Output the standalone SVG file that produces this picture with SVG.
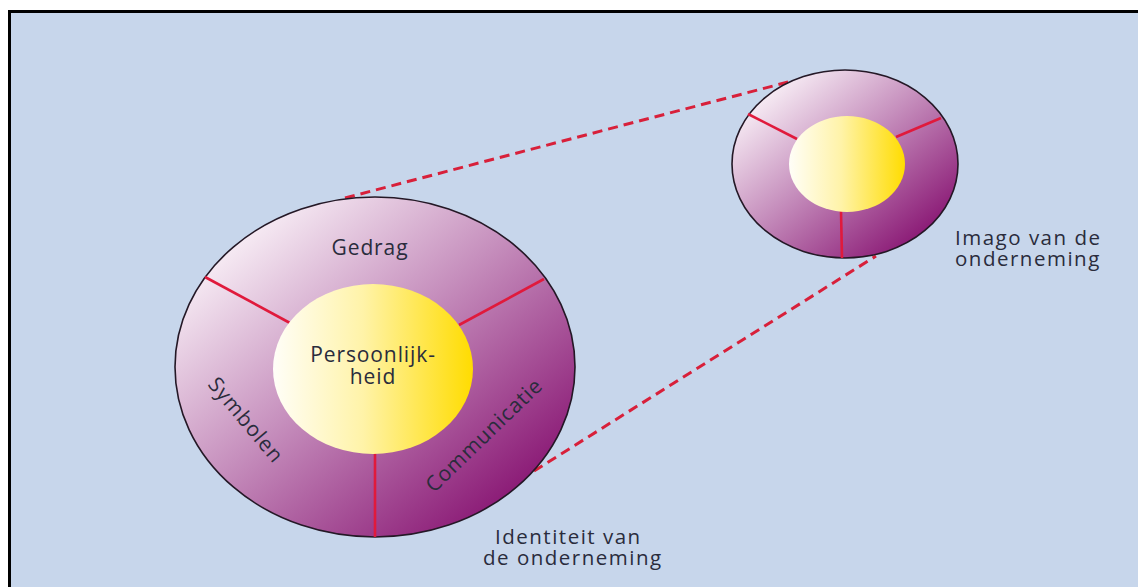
<svg xmlns="http://www.w3.org/2000/svg" width="1138" height="587" viewBox="0 0 1138 587">
  <defs>
    <linearGradient id="ring" x1="0.12" y1="0.1" x2="0.9" y2="0.9">
      <stop offset="0" stop-color="#FBF4F9"/>
      <stop offset="0.45" stop-color="#C68FBD"/>
      <stop offset="1" stop-color="#850F6F"/>
    </linearGradient>
    <linearGradient id="core" x1="0" y1="0" x2="1" y2="0">
      <stop offset="0" stop-color="#FFFEF8"/>
      <stop offset="0.45" stop-color="#FFF3A8"/>
      <stop offset="1" stop-color="#FFDC00"/>
    </linearGradient>
    <style>
      .ring { fill: url(#ring); stroke: #241826; stroke-width: 1.6; }
      .core { fill: url(#core); stroke: none; }
      .div { stroke: #E01A3C; stroke-width: 2.6; fill: none; }
      .dash { stroke: #D8203A; stroke-width: 3; stroke-dasharray: 10 6; fill: none; }
      .lbl { font-family: "Open Sans", "Noto Sans", sans-serif; font-size: 21px; fill: #2A2C3C; letter-spacing: 0.9px; }
      .cap { font-family: "Open Sans", "Noto Sans", sans-serif; font-size: 20.5px; fill: #2A2C3C; letter-spacing: 1.5px; }
    </style>
  </defs>

  <rect x="0" y="0" width="1138" height="587" fill="#FFFFFF"/>
  <rect x="10" y="12" width="1130" height="580" fill="#C7D6EB"/>
  <line x1="9.5" y1="10" x2="9.5" y2="587" stroke="#000" stroke-width="3"/>
  <line x1="8" y1="11.5" x2="1138" y2="11.5" stroke="#000" stroke-width="3"/>

  <g id="connectors">
    <line class="dash" x1="345" y1="198" x2="792" y2="81"/>
    <line class="dash" x1="534" y1="471" x2="876" y2="256"/>
  </g>

  <g id="identiteit">
    <ellipse class="ring" cx="375" cy="367" rx="200" ry="170"/>
    <line class="div" x1="205" y1="277" x2="290" y2="323"/>
    <line class="div" x1="544" y1="279" x2="459" y2="325"/>
    <line class="div" x1="375" y1="452" x2="375" y2="537"/>
    <ellipse class="core" cx="373" cy="369" rx="100" ry="85"/>
    <text class="lbl" x="370" y="255" text-anchor="middle">Gedrag</text>
    <text class="lbl" text-anchor="middle"><tspan x="373" y="362">Persoonlijk-</tspan><tspan x="373" y="384">heid</tspan></text>
    <text class="lbl" text-anchor="middle" transform="translate(246,420) rotate(50)" dy="0.35em">Symbolen</text>
    <text class="lbl" text-anchor="middle" transform="translate(484,435) rotate(-44)" dy="0.35em">Communicatie</text>
    <text class="cap"><tspan x="495" y="544">Identiteit van</tspan><tspan x="483" y="565">de onderneming</tspan></text>
  </g>

  <g id="imago">
    <ellipse class="ring" cx="845" cy="164" rx="113" ry="94"/>
    <line class="div" x1="748" y1="114" x2="797" y2="139"/>
    <line class="div" x1="941" y1="118" x2="896" y2="137"/>
    <line class="div" x1="841" y1="211" x2="842" y2="258"/>
    <ellipse class="core" cx="847" cy="164" rx="58" ry="48"/>
    <text class="cap"><tspan x="955" y="245">Imago van de</tspan><tspan x="955" y="266">onderneming</tspan></text>
  </g>
</svg>
